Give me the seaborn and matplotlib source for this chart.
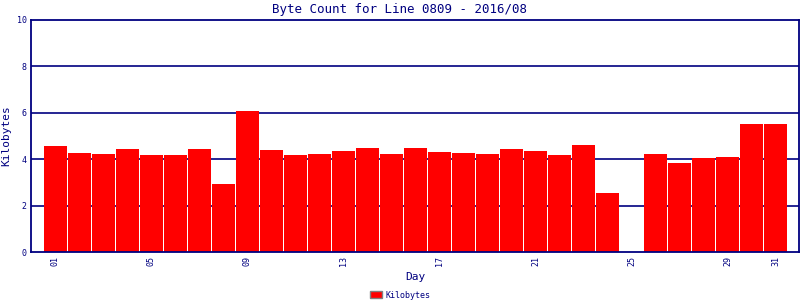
import matplotlib
matplotlib.use("Agg")
import matplotlib.pyplot as plt
import seaborn as sns
import pandas as pd
import numpy as np
from matplotlib.patches import Patch

days = [f"{d:02d}" for d in range(1, 32)]
kilobytes = [4.57, 4.28, 4.22, 4.45, 4.19, 4.19, 4.45, 2.93, 6.08, 4.40,
             4.19, 4.24, 4.35, 4.48, 4.24, 4.48, 4.31, 4.27, 4.24, 4.44,
             4.35, 4.18, 4.61, 2.54, 0.0, 4.22, 3.84, 4.05, 4.09, 5.52, 5.52]
shown_ticks = ["01", "05", "09", "13", "17", "21", "25", "29", "31"]
title = "Byte Count for Line 0809 - 2016/08"

navy = "#000080"
sns.set_theme(style="white")
plt.rcParams['font.family'] = ['DejaVu Sans Mono', 'DejaVu Sans']

df = pd.DataFrame({"Day": days, "Kilobytes": kilobytes})

fig = plt.figure(figsize=(8, 3), dpi=100)
ax = fig.add_axes([31/800, 1 - 252/300, (799 - 31)/800, (252 - 20)/300])

sns.barplot(data=df, x="Day", y="Kilobytes", order=days, color="#ff0000",
            saturation=1, width=0.96, ax=ax, zorder=3, linewidth=0)

ax.set_ylim(0, 10)
ax.set_xlim(-1.02, 30.98)
ax.set_yticks([0, 2, 4, 6, 8, 10])
ax.set_yticklabels(["0", "2", "4", "6", "8", "10"], fontsize=6, color=navy)
for y in [2, 4, 6, 8]:
    ax.axhline(y, color=navy, lw=1.2, zorder=1)

pos = [days.index(t) for t in shown_ticks]
ax.set_xticks(pos)
ax.set_xticklabels(shown_ticks, rotation=90, fontsize=6, color=navy)
ax.tick_params(axis="both", length=0, pad=3)

for s in ax.spines.values():
    s.set_color(navy)
    s.set_linewidth(1.3)
    s.set_visible(True)
    s.set_zorder(5)

ax.set_xlabel("Day", fontsize=8, color=navy, labelpad=4)
ax.set_ylabel("Kilobytes", fontsize=8, color=navy, labelpad=4)
fig.text(0.5, 1 - 9/300, title, ha="center", va="center", fontsize=9, color=navy)

handle = Patch(facecolor="#ff0000", edgecolor="#808080", linewidth=1)
fig.legend(handles=[handle], labels=["Kilobytes"], loc="center",
           bbox_to_anchor=(400/800, 1 - 295/300), frameon=False, fontsize=6,
           handlelength=1.4, handleheight=0.9, handletextpad=0.4,
           labelcolor=navy)

fig.savefig("out.png", dpi=100)
